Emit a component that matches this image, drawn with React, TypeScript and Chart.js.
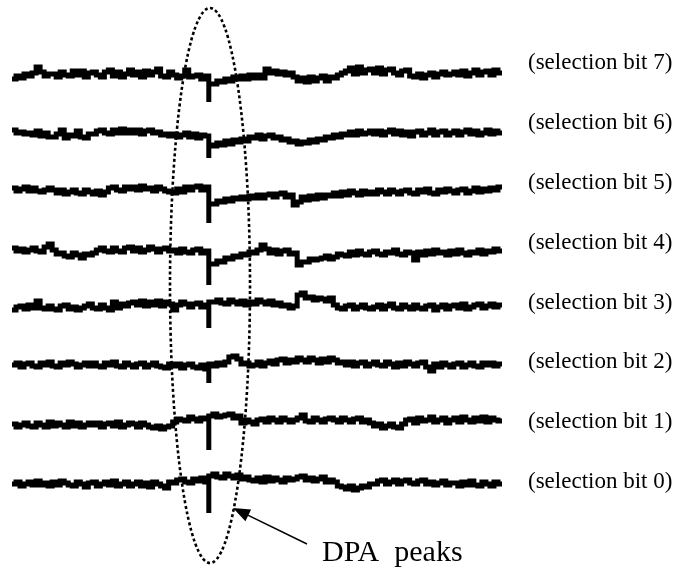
import React, { useEffect, useRef } from "react";
import { Chart, registerables } from "chart.js";

Chart.register(...registerables);

// Trace labels, top to bottom
const LABELS = [
  "(selection bit 7)",
  "(selection bit 6)",
  "(selection bit 5)",
  "(selection bit 4)",
  "(selection bit 3)",
  "(selection bit 2)",
  "(selection bit 1)",
  "(selection bit 0)",
];

// Sample index where the DPA peak occurs
const PEAK_INDEX = 49;
// Depth of the DPA peak in each trace (bit 7 .. bit 0)
const PEAK_DEPTH = [-27, -25, -33, -34, -21, -18, -25, -30];

// Differential traces (bit 7 .. bit 0), one value per sample
const BIT7 = [
  -4, -1, -3, 1, -1, 2, 8, 3, -1, 1,
  1, -2, 3, 0, -1, 4, 0, 4, -2, 2,
  3, 0, -2, 3, 5, -1, 3, -2, 1, 5,
  0, 3, -2, 4, 0, 3, 6, -1, -2, 3,
  0, -3, -1, 5, -2, -1, 0, -4, -1, -9,
  -9, -6, -7, -4, -6, -2, -4, -1, -4, 0,
  -3, 0, -3, 6, 2, 4, 1, 3, 0, 2,
  -2, -6, -3, -7, -2, -6, -3, -1, -6, -2,
  -3, 0, 2, 4, 7, 1, 8, 2, 5, 6,
  2, 7, 1, 5, 6, 2, 0, 4, 5, -1,
  -2, 1, -3, 0, 2, -2, 1, 3, 0, 1,
  3, 0, 4, -1, 2, 5, 0, 3, 4, 0, 5, 2,
];
const BIT6 = [
  3, 0, 1, -1, 0, -2, 2, -3, 0, -4,
  -4, -1, 3, -5, -2, -3, 2, -4, -5, -1,
  -1, 2, 3, 0, -1, 3, 0, 4, 0, 3,
  0, 3, -1, 2, 3, 0, 1, -2, -1, -3,
  -1, -4, -2, 0, -4, -1, -5, -2, -3, -12,
  -13, -10, -12, -8, -11, -7, -9, -6, -8, -4,
  -5, -2, -6, -3, -2, -5, -4, -7, -6, -9,
  -8, -11, -9, -10, -7, -9, -6, -7, -4, -5,
  -2, -4, -1, -2, 1, -2, 2, -1, 0, 2,
  -1, 2, -2, 1, 3, -1, 2, -2, 1, -3,
  1, 2, -2, 0, 3, -2, 1, 2, -2, 0,
  2, -2, 1, 3, -1, 2, -2, 0, 3, -1, 2, 0,
];
const BIT5 = [
  2, -1, 1, 3, -1, 2, -1, -2, 0, 2,
  0, -3, 0, -4, -2, 0, -3, -4, 0, -2,
  -4, -1, -5, -2, 2, 3, 0, -1, 3, 1,
  3, 0, 4, 1, 2, -1, 3, 1, -1, -2,
  -3, 1, -2, 3, 0, 3, 4, 0, 3, -14,
  -14, -11, -12, -9, -11, -8, -9, -7, -9, -6,
  -8, -5, -8, -5, -4, -7, -4, -3, -7, -5,
  -15, -12, -7, -10, -6, -9, -5, -8, -5, -6,
  -3, -6, -2, -5, -1, -3, -5, -1, -4, -2,
  -4, 0, -2, -4, 0, -2, -4, -1, 0, -3,
  -4, 0, -2, 1, -3, -4, 0, -2, 1, -1,
  -3, 0, 1, -3, -1, 2, -2, 1, -1, 2, 0, 3,
];
const BIT4 = [
  3, 0, 2, -1, 1, 3, 0, -1, 4, 7,
  1, -3, -2, -5, -6, -2, -4, -7, -3, -4,
  -2, 1, 3, 0, -1, 3, 0, -1, 3, 4,
  0, 3, -1, 1, 4, 2, -1, 2, 3, 0,
  1, -2, 2, -1, -2, 1, 2, -2, 0, -13,
  -13, -10, -11, -7, -8, -5, -6, -3, -4, -1,
  -2, 1, 6, 2, -2, 1, -3, 0, 1, -3,
  -2, -14, -11, -11, -8, -9, -8, -7, -5, -8,
  -6, -3, -4, -5, -1, -4, 0, -3, -4, -1,
  0, -3, -4, -1, -2, 1, -3, -4, -1, -2,
  -9, -1, -4, 0, -3, 1, -2, -1, -4, 0,
  -3, 1, -2, -4, -1, -2, 1, -3, 0, -1, 2, 0,
];
const BIT3 = [
  -3, 0, 1, -2, 2, -1, 6, -1, -2, 1,
  -2, -3, 1, 2, -2, 0, -3, -1, 1, 3,
  -1, -2, 2, -1, -3, 5, -1, 3, 1, 4,
  5, 2, 6, 1, 5, 2, 6, 1, 5, 3,
  -3, 2, 5, 3, 0, 3, 4, 0, 2, 5,
  5, 7, 4, 3, 7, 5, 3, 6, 2, 5,
  3, 7, 5, 3, 6, 2, 4, 1, 2, -1,
  1, 12, 14, 9, 10, 7, 9, 8, 6, 9,
  2, -1, -2, 1, 2, -2, 0, 2, -1, -2,
  0, 2, -2, 1, 3, -1, -2, 2, 0, -2,
  2, -1, -2, 1, 2, -3, 0, 2, -2, 1,
  2, -1, 3, -2, 0, 2, 3, -1, 1, 3, 0, 2,
];
const BIT2 = [
  0, 2, -2, 1, 2, -1, -2, 2, 0, 3,
  -1, -2, 2, 0, 3, 1, -2, 0, 2, -1,
  2, -1, -2, 2, 0, 3, -1, -2, 2, 0,
  -2, 1, 2, -2, 0, 2, -1, -2, -3, 1,
  -1, 1, -3, 0, 1, -2, -3, 0, -4, 1,
  -1, 2, 0, 3, 8, 9, 6, 1, 2, -1,
  0, 3, -1, 2, 4, 1, 5, 6, 2, 5,
  3, 7, 5, 3, 7, 5, 2, 6, 3, 7,
  5, 2, 3, 0, 3, -1, 2, 3, -1, 1,
  3, 0, -1, 3, 1, -2, 2, -1, 3, 1,
  -1, 2, 3, -2, -6, 1, -2, 2, 0, -2,
  1, 2, -2, 0, 2, -1, -2, 2, 0, 2, -1, 1,
];
const BIT1 = [
  1, -2, 0, 2, -1, -2, 2, 0, -2, 3,
  -1, 2, 0, -2, 3, -1, 2, -2, 0, 2,
  0, 2, -2, 1, 2, -1, 3, -2, 0, 2,
  1, -2, 2, 0, -2, -3, -1, -4, -2, -1,
  3, 6, 5, 4, 8, 6, 4, 7, 6, 9,
  11, 8, 9, 10, 11, 7, 9, 2, 5, 3,
  1, 5, 6, 3, 7, 5, 3, 7, 5, 3,
  5, 7, 10, 4, 3, 7, 5, 3, 6, 7,
  5, 3, 7, 5, 3, 6, 7, 3, 5, 2,
  -1, 1, -3, -1, 1, -2, -3, 1, 5, 6,
  2, 7, 4, 5, 8, 3, 5, 7, 2, 5,
  7, 3, 8, 5, 3, 7, 4, 8, 3, 7, 5, 4,
];
const BIT0 = [
  -1, 1, -3, -1, 1, -2, 2, -2, 0, -3,
  1, -2, 2, 0, -2, -3, 1, -1, -4, 0,
  1, -3, -1, 1, -2, 2, -3, -1, 1, -3,
  -1, 1, -3, 0, -4, 1, -1, -3, -5, 1,
  0, 3, 4, 1, 0, 4, 2, 5, 1, 7,
  9, 6, 5, 9, 7, 5, 8, 4, 6, 3,
  2, 5, 1, 6, 2, 5, 3, 1, 5, 3,
  4, 6, 7, 3, 5, 2, 4, 6, 1, 3,
  1, -3, -4, -6, -3, -7, -5, -3, -4, -1,
  -1, 2, 3, -1, 1, 3, -1, 2, 3, 0,
  -1, 2, 3, -1, 1, -2, 0, 2, -2, 0,
  0, -3, 1, -2, 2, -2, -3, 1, -1, -3, 1, -1,
];

const SERIES = [BIT7, BIT6, BIT5, BIT4, BIT3, BIT2, BIT1, BIT0];

// Layout constants (pixels)
const W = 680;
const H = 569;
const TRACE_CENTERS = [75, 133, 190, 251, 307, 365, 425, 483];
const LABEL_X = 528;
const LABEL_BASELINES = [69, 129, 189, 249, 309, 368, 428, 488];

function buildPoints(values: number[], k: number) {
  const off = -TRACE_CENTERS[k];
  const pts: { x: number; y: number }[] = [];
  values.forEach((v, i) => {
    if (i === PEAK_INDEX) pts.push({ x: i, y: off + PEAK_DEPTH[k] });
    pts.push({ x: i, y: off + v });
  });
  pts.push({ x: values.length, y: off + values[values.length - 1] });
  return pts;
}

const overlayPlugin = {
  id: "overlay",
  afterDatasetsDraw(chart: any) {
    const ctx = chart.ctx as CanvasRenderingContext2D;
    const xs = chart.scales.x;
    ctx.save();
    ctx.fillStyle = "#000";
    ctx.strokeStyle = "#000";

    // labels
    ctx.font = '23px "Liberation Serif", "Times New Roman", serif';
    ctx.textBaseline = "alphabetic";
    ctx.textAlign = "left";
    LABELS.forEach((t, k) => ctx.fillText(t, LABEL_X, LABEL_BASELINES[k]));

    // dotted ellipse around the peaks
    const cx = xs.getPixelForValue(PEAK_INDEX) + 1.2;
    ctx.setLineDash([3, 2.6]);
    ctx.lineWidth = 2.6;
    ctx.lineCap = "butt";
    ctx.beginPath();
    ctx.ellipse(cx, 285.5, 40, 277.5, 0, 0, Math.PI * 2);
    ctx.stroke();
    ctx.setLineDash([]);

    // arrow
    const tip = { x: 233, y: 508 };
    const tail = { x: 307, y: 544 };
    const dx = tail.x - tip.x;
    const dy = tail.y - tip.y;
    const len = Math.hypot(dx, dy);
    const ux = dx / len;
    const uy = dy / len;
    const hl = 17;
    const hw = 6.5;
    ctx.lineWidth = 1.5;
    ctx.beginPath();
    ctx.moveTo(tip.x + ux * hl * 0.8, tip.y + uy * hl * 0.8);
    ctx.lineTo(tail.x, tail.y);
    ctx.stroke();
    ctx.beginPath();
    ctx.moveTo(tip.x, tip.y);
    ctx.lineTo(tip.x + ux * hl - uy * hw, tip.y + uy * hl + ux * hw);
    ctx.lineTo(tip.x + ux * hl + uy * hw, tip.y + uy * hl - ux * hw);
    ctx.closePath();
    ctx.fill();

    ctx.font = '30px "Liberation Serif", "Times New Roman", serif';
    ctx.fillText("DPA  peaks", 322, 561);
    ctx.restore();
  },
};

export default function App() {
  const ref = useRef<HTMLCanvasElement | null>(null);

  useEffect(() => {
    if (!ref.current) return;
    const n = BIT7.length;
    const chart = new Chart(ref.current, {
      type: "line",
      data: {
        datasets: SERIES.map((s, k) => ({
          label: LABELS[k],
          data: buildPoints(s, k),
          borderColor: "#000",
          backgroundColor: "#000",
          borderWidth: 5,
          pointRadius: 0,
          stepped: true,
          tension: 0,
          fill: false,
          borderJoinStyle: "miter" as const,
          borderCapStyle: "butt" as const,
        })),
      },
      options: {
        responsive: false,
        animation: false,
        devicePixelRatio: 1,
        layout: { padding: { left: 12, right: W - 502, top: 0, bottom: 0 } },
        scales: {
          x: { type: "linear", display: false, min: 0, max: n },
          y: { type: "linear", display: false, min: -H, max: 0 },
        },
        plugins: {
          legend: { display: false },
          tooltip: { enabled: false },
        },
      },
      plugins: [overlayPlugin],
    });
    return () => chart.destroy();
  }, []);

  return (
    <div style={{ position: "absolute", left: 0, top: 0, width: W, height: H, background: "#fff" }}>
      <canvas ref={ref} width={W} height={H} style={{ display: "block", width: W, height: H }} />
    </div>
  );
}
